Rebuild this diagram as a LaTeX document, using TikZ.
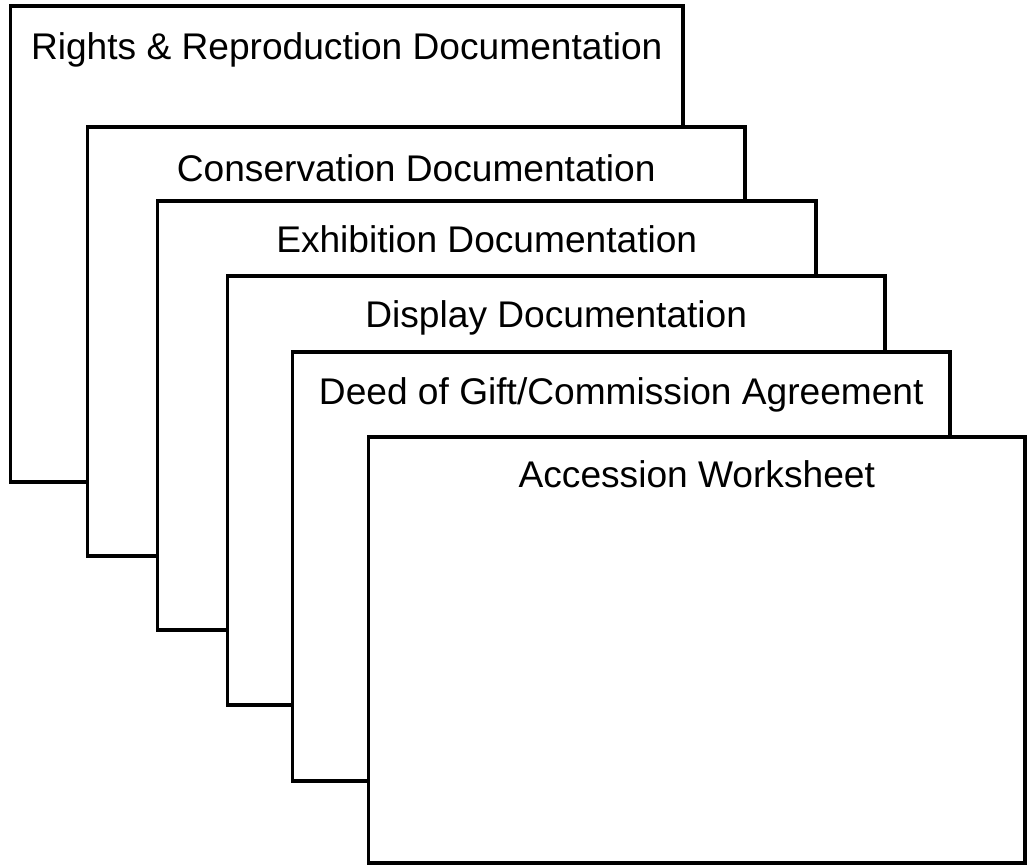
\documentclass[tikz,border=0pt]{standalone}
\usepackage{fontspec}
\setmainfont{Liberation Sans}
\usetikzlibrary{calc}

\begin{document}
\begin{tikzpicture}[x=0.025cm,y=0.025cm,
        sheet/.style={draw,fill=white,line width=2.6pt,line join=miter},
        caption/.style={anchor=base,inner sep=0pt,font=\fontsize{26.4}{31}\selectfont}]
    \useasboundingbox (0,0) rectangle (1028,-866);
    % sheets, back to front
    \path (10.5,-6) coordinate (rightsNW) (683,-482) coordinate (rightsSE)
        (87.5,-127) coordinate (consNW) (745,-556) coordinate (consSE)
        (157.5,-201) coordinate (exhNW) (816,-630) coordinate (exhSE)
        (227.5,-276) coordinate (dispNW) (885,-705) coordinate (dispSE)
        (292.5,-352) coordinate (deedNW) (950,-781) coordinate (deedSE)
        (368.5,-437) coordinate (accNW) (1025,-863) coordinate (accSE);
    \draw[sheet] (rightsNW) rectangle (rightsSE);
    \node[caption] (rights) at ($(rightsNW)!.5!(rightsSE |- rightsNW)+(0,-54)$) {Rights \& Reproduction Documentation};
    \draw[sheet] (consNW) rectangle (consSE);
    \node[caption] (cons) at ($(consNW)!.5!(consSE |- consNW)+(0,-55)$) {Conservation Documentation};
    \draw[sheet] (exhNW) rectangle (exhSE);
    \node[caption] (exh) at ($(exhNW)!.5!(exhSE |- exhNW)+(0,-52)$) {Exhibition Documentation};
    \draw[sheet] (dispNW) rectangle (dispSE);
    \node[caption] (disp) at ($(dispNW)!.5!(dispSE |- dispNW)+(0,-52)$) {Display Documentation};
    \draw[sheet] (deedNW) rectangle (deedSE);
    \node[caption] (deed) at ($(deedNW)!.5!(deedSE |- deedNW)+(0,-53)$) {Deed of Gift/Commission Agreement};
    \draw[sheet] (accNW) rectangle (accSE);
    \node[caption] (acc) at ($(accNW)!.5!(accSE |- accNW)+(0,-51)$) {Accession Worksheet};
\end{tikzpicture}
\end{document}
